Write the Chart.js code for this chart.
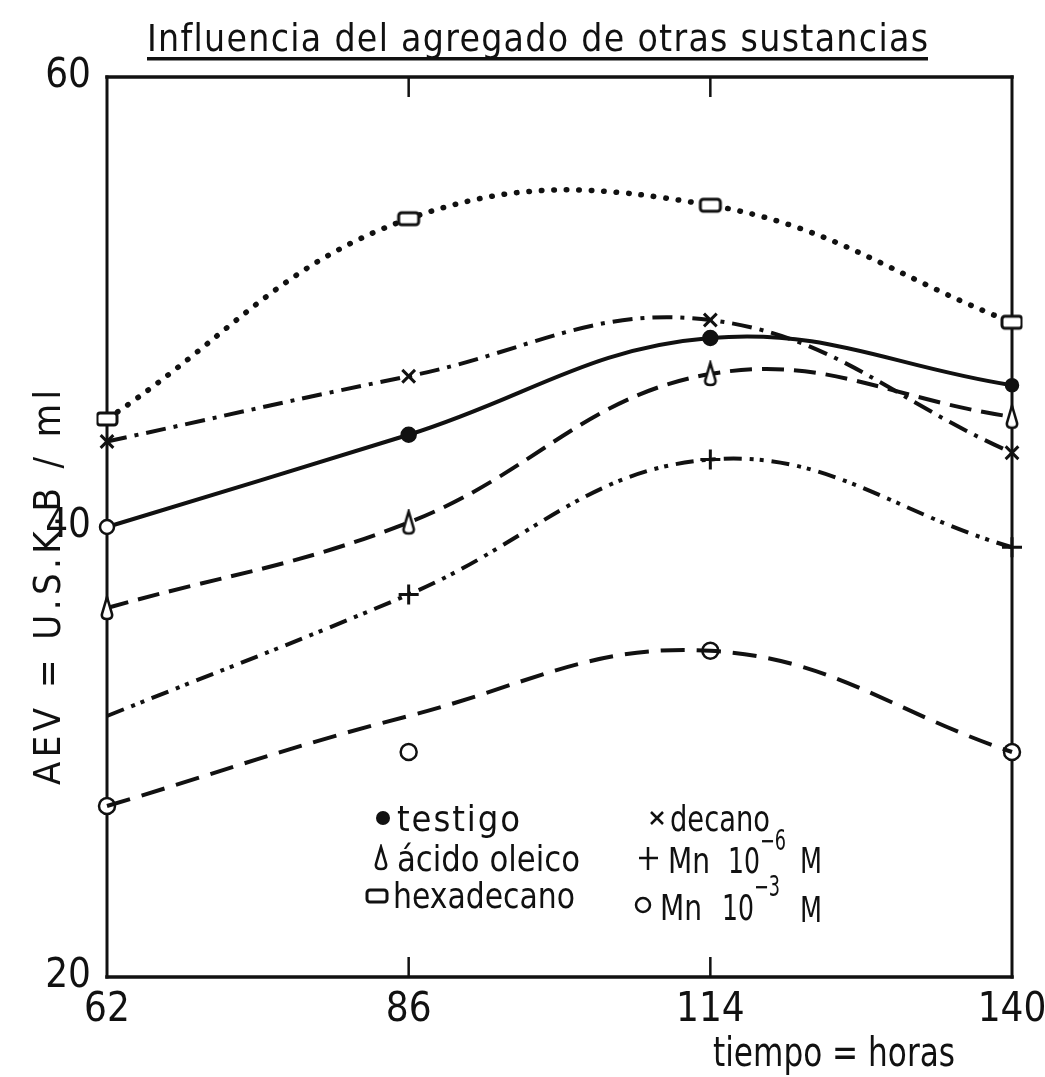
<!DOCTYPE html>
<html><head><meta charset="utf-8">
<script src="https://cdn.jsdelivr.net/npm/chart.js@4/dist/chart.umd.min.js"></script>
<style>html,body{margin:0;padding:0;background:#fff}#wrap{position:relative;width:1045px;height:1077px}</style>
</head><body><div id="wrap"><canvas id="c" width="1045" height="1077"></canvas></div>
<script>
// ---- data ----
const categories = ['62', '86', '114', '140'];
const testigo     = [40.0, 44.1, 48.4, 46.3];
const acidoOleico = [36.4, 40.2, 46.8, 44.9];
const hexadecano  = [44.8, 53.7, 54.3, 49.1];
const decano      = [43.8, 46.7, 49.2, 43.3];
const mn6         = [31.6, 37.0, 43.0, 39.1];
const mn3Line     = [27.6, 31.6, 34.5, 30.0];
const mn3Points   = [27.6, 30.0, 34.5, 30.0];
const yTicks = [20, 40, 60];

const FF = '"DejaVu Sans Condensed","Liberation Sans Narrow","DejaVu Sans",sans-serif';
const INK = '#111';

function makeRectMarker() {
  const c = document.createElement('canvas'); c.width = 26; c.height = 18;
  const x = c.getContext('2d');
  x.fillStyle = '#fff'; x.strokeStyle = INK; x.lineWidth = 3;
  x.beginPath(); x.roundRect(3, 3, 20, 12, 3); x.fill(); x.stroke();
  return c;
}
function makeDropMarker() {
  const c = document.createElement('canvas'); c.width = 18; c.height = 28;
  const x = c.getContext('2d');
  x.fillStyle = '#fff'; x.strokeStyle = INK; x.lineWidth = 2.6;
  x.beginPath(); x.moveTo(9, 3); x.lineTo(14, 20);
  x.quadraticCurveTo(15, 25, 9, 25); x.quadraticCurveTo(3, 25, 4, 20);
  x.closePath(); x.fill(); x.stroke();
  return c;
}
const rectMarker = makeRectMarker();
const dropMarker = makeDropMarker();

function fitText(ctx, text, x, y, w, size, opts) {
  opts = opts || {};
  ctx.save();
  ctx.font = size + 'px ' + FF;
  ctx.fillStyle = INK;
  ctx.textBaseline = 'alphabetic';
  ctx.textAlign = 'left';
  const m = ctx.measureText(text).width;
  ctx.translate(x, y);
  if (opts.rotate) ctx.rotate(opts.rotate);
  if (w > m && 'letterSpacing' in ctx && text.length > 1) {
    ctx.letterSpacing = ((w - m) / (text.length - 1)) + 'px';
    ctx.fillText(text, 0, 0);
  } else {
    ctx.scale(w / m, 1);
    ctx.fillText(text, 0, 0);
  }
  ctx.restore();
}

const decorPlugin = {
  id: 'decor',
  beforeDatasetsDraw(chart) {
    const ctx = chart.ctx, a = chart.chartArea, xs = chart.scales.x;
    ctx.save();
    ctx.strokeStyle = INK; ctx.lineCap = 'square';
    ctx.lineWidth = 3.5;
    ctx.beginPath(); ctx.moveTo(a.left, a.top); ctx.lineTo(a.right, a.top); ctx.stroke();
    ctx.beginPath(); ctx.moveTo(a.left, a.bottom); ctx.lineTo(a.right, a.bottom); ctx.stroke();
    ctx.lineWidth = 3;
    ctx.beginPath(); ctx.moveTo(a.left, a.top); ctx.lineTo(a.left, a.bottom); ctx.stroke();
    ctx.beginPath(); ctx.moveTo(a.right, a.top); ctx.lineTo(a.right, a.bottom); ctx.stroke();
    ctx.lineWidth = 2.5; ctx.lineCap = 'butt';
    for (let i = 1; i < categories.length - 1; i++) {
      const px = xs.getPixelForValue(i);
      ctx.beginPath(); ctx.moveTo(px, a.top); ctx.lineTo(px, a.top + 20); ctx.stroke();
      ctx.beginPath(); ctx.moveTo(px, a.bottom - 20); ctx.lineTo(px, a.bottom); ctx.stroke();
    }
    ctx.restore();
  },
  afterDraw(chart) {
    const ctx = chart.ctx;
    // title + underline
    fitText(ctx, 'Influencia del agregado de otras sustancias', 147, 51, 781, 37);
    ctx.save(); ctx.fillStyle = INK; ctx.fillRect(147, 57, 781, 3.5); ctx.restore();
    // axis titles
    fitText(ctx, 'tiempo = horas', 713, 1066, 242, 40);
    fitText(ctx, 'AEV = U.S.K.B / ml', 60, 785, 395, 38, { rotate: -Math.PI / 2 });
    // legend
    ctx.save();
    ctx.fillStyle = INK; ctx.strokeStyle = INK;
    ctx.beginPath(); ctx.arc(383, 818, 7, 0, Math.PI * 2); ctx.fill();
    ctx.drawImage(dropMarker, 381 - 9, 858 - 14);
    ctx.drawImage(rectMarker, 377 - 13, 896 - 9);
    ctx.lineWidth = 2.5;
    ctx.beginPath(); ctx.moveTo(651, 812); ctx.lineTo(663, 824); ctx.moveTo(663, 812); ctx.lineTo(651, 824); ctx.stroke();
    ctx.beginPath(); ctx.moveTo(639, 858); ctx.lineTo(658, 858); ctx.moveTo(648, 847); ctx.lineTo(648, 870); ctx.stroke();
    ctx.beginPath(); ctx.arc(643, 905, 7, 0, Math.PI * 2); ctx.stroke();
    ctx.restore();
    fitText(ctx, 'testigo', 397, 831, 123, 36);
    fitText(ctx, 'ácido oleico', 397, 871, 183, 36);
    fitText(ctx, 'hexadecano', 393, 908, 182, 36);
    fitText(ctx, 'decano', 670, 831, 100, 36);
    fitText(ctx, 'Mn', 668, 873, 42, 36);
    fitText(ctx, '10', 728, 873, 32, 36);
    fitText(ctx, '−6', 760, 850, 26, 28);
    fitText(ctx, 'M', 800, 873, 22, 36);
    fitText(ctx, 'Mn', 660, 920, 42, 36);
    fitText(ctx, '10', 722, 920, 32, 36);
    fitText(ctx, '−3', 754, 896, 26, 28);
    fitText(ctx, 'M', 800, 922, 22, 36);
  }
};

const base = { borderColor: INK, pointBorderColor: INK, tension: 0.4, fill: false, borderWidth: 4, pointBorderWidth: 2.5, pointBackgroundColor: '#fff' };

new Chart(document.getElementById('c'), {
  type: 'line',
  data: {
    labels: categories,
    datasets: [
      Object.assign({}, base, { label: 'hexadecano', data: hexadecano, borderDash: [0.5, 12], borderCapStyle: 'round', borderWidth: 5.5, pointStyle: rectMarker, pointRadius: 8 }),
      Object.assign({}, base, { label: 'decano', data: decano, borderDash: [20, 8, 4, 8], pointStyle: 'crossRot', pointRadius: 9, pointBorderWidth: 3 }),
      Object.assign({}, base, { label: 'testigo', data: testigo, pointStyle: 'circle', pointRadius: [7, 7, 7, 6], pointBackgroundColor: ['#fff', INK, INK, INK] }),
      Object.assign({}, base, { label: 'ácido oleico', data: acidoOleico, borderDash: [22, 10], pointStyle: dropMarker, pointRadius: 8 }),
      Object.assign({}, base, { label: 'Mn 10-6 M', data: mn6, borderDash: [18, 8, 4, 6, 4, 8], pointStyle: 'cross', pointRadius: [0, 10, 10, 10], pointBorderWidth: 3 }),
      Object.assign({}, base, { label: 'Mn 10-3 M (curva)', data: mn3Line, borderDash: [24, 12], pointRadius: 0 }),
      Object.assign({}, base, { label: 'Mn 10-3 M', data: mn3Points, showLine: false, pointStyle: 'circle', pointRadius: 8 })
    ]
  },
  options: {
    responsive: false,
    devicePixelRatio: 1,
    animation: false,
    layout: { padding: { top: 77, right: 33, left: 0, bottom: 0 } },
    plugins: { legend: { display: false }, tooltip: { enabled: false }, title: { display: false } },
    scales: {
      x: {
        type: 'category', offset: false,
        grid: { display: false, drawTicks: false },
        border: { display: false },
        ticks: { color: INK, font: { family: FF, size: 40 }, padding: 10, maxRotation: 0, autoSkip: false },
        afterFit(s) { s.height = 100; s.paddingLeft = 0; s.paddingRight = 0; }
      },
      y: {
        min: 20, max: 60,
        grid: { display: false, drawTicks: false },
        border: { display: false },
        afterBuildTicks(s) { s.ticks = yTicks.map(v => ({ value: v })); },
        ticks: { color: INK, font: { family: FF, size: 40 }, padding: 16 },
        afterFit(s) { s.width = 107; s.paddingTop = 0; s.paddingBottom = 0; }
      }
    }
  },
  plugins: [decorPlugin]
});
</script>
</body></html>
